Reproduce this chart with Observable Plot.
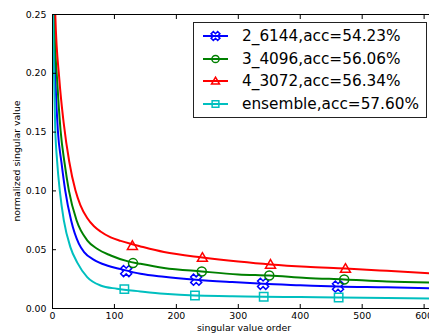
<!DOCTYPE html>
<html><head><meta charset="utf-8">
<script src="https://cdn.jsdelivr.net/npm/d3@7"></script>
<script src="https://cdn.jsdelivr.net/npm/@observablehq/plot@0.6"></script>
<style>
html,body{margin:0;padding:0;background:#fff;}
#wrap{position:relative;width:429px;height:335px;overflow:hidden;font-family:"DejaVu Sans",sans-serif;}
#wrap > svg{max-width:none !important;position:absolute;left:0;top:0;}
#legend{position:absolute;left:193px;top:22px;width:232px;height:94px;border:1px solid #222;background:#fff;box-sizing:content-box;}
.row{position:absolute;left:0;height:20px;}
.row svg{position:absolute;left:8px;top:0;}
.row span{position:absolute;left:48px;top:0;font-size:15.3px;line-height:20px;white-space:nowrap;color:#000;}
.lab{position:absolute;font-size:9.4px;color:#000;white-space:nowrap;}
</style></head>
<body><div id="wrap"></div>
<script>
// ---- data ----
const seriesNames = ["2_6144,acc=54.23%","3_4096,acc=56.06%","4_3072,acc=56.34%","ensemble,acc=57.60%"];
const seriesColors = ["#0000ff","#008000","#ff0000","#00bfbf"];
const xTicks = [0,100,200,300,400,500,600];
const yTicks = [0,0.05,0.10,0.15,0.20,0.25];

const blueOrder = [0,1.5,5,8.6,14.5,20.5,30,42.5,51,67,88,110,142,180,232,290,340,400,461,540,620];
const blueValue = [0.28,0.25,0.19,0.1516,0.124,0.1005,0.075,0.0551,0.048,0.0414,0.0366,0.0335,0.0295,0.027,0.0245,0.0225,0.021,0.0198,0.0187,0.018,0.017];
const greenOrder = [0,2.5,8,13,19.4,26.4,38.8,56,72,94,120.6,142,180,241,300,350,410,471,540,620];
const greenValue = [0.32,0.25,0.19,0.1516,0.124,0.1005,0.075,0.058,0.0508,0.0451,0.0403,0.038,0.0345,0.0315,0.029,0.028,0.026,0.0247,0.023,0.022];
const redOrder = [0,4.5,11,18,27,37,45,56,67,77.5,94,110,126,142,180,242,300,352,410,473,540,620];
const redValue = [0.40,0.25,0.195,0.158,0.125,0.1005,0.088,0.077,0.070,0.0655,0.0605,0.0575,0.055,0.0528,0.048,0.0434,0.040,0.0375,0.0355,0.034,0.032,0.0295];
const cyanOrder = [0,2,4.3,7.5,11.8,18.3,29,40,56,77.5,104,142,180,230,290,341,400,462,540,620];
const cyanValue = [0.29,0.21,0.155,0.125,0.1,0.075,0.052,0.039,0.0267,0.0196,0.0168,0.0145,0.0125,0.011,0.0105,0.010,0.0097,0.0094,0.009,0.0085];

const blueMarkOrder = [119,232,340,461];
const blueMarkValue = [0.0318,0.0245,0.021,0.0187];
const greenMarkOrder = [130,241,350,471];
const greenMarkValue = [0.0386,0.0315,0.028,0.0247];
const redMarkOrder = [129,242,352,473];
const redMarkValue = [0.0535,0.0434,0.0375,0.034];
const cyanMarkOrder = [116,230,341,462];
const cyanMarkValue = [0.0165,0.011,0.010,0.0094];

// ---- symbols ----
function scaleOf(size){ return Math.sqrt(size/Math.PI)/4.5; }
function poly(ctx, pts){ ctx.moveTo(pts[0][0],pts[0][1]); for(let i=1;i<pts.length;i++) ctx.lineTo(pts[i][0],pts[i][1]); ctx.closePath(); }
const symX = {draw(ctx,size){ const s=scaleOf(size), a=2*s, L=5.8*s;
  const p=[[a,L],[a,a],[L,a],[L,-a],[a,-a],[a,-L],[-a,-L],[-a,-a],[-L,-a],[-L,a],[-a,a],[-a,L]].map(([x,y])=>[(x-y)/Math.SQRT2,(x+y)/Math.SQRT2]);
  poly(ctx,p);} };
const symCircle = {draw(ctx,size){ const r=4.5*scaleOf(size); ctx.moveTo(r,0); ctx.arc(0,0,r,0,2*Math.PI);} };
const symTri = {draw(ctx,size){ const s=scaleOf(size); poly(ctx,[[0,-4.8*s],[5*s,3.8*s],[-5*s,3.8*s]]);} };
const symSq = {draw(ctx,size){ const s=scaleOf(size), h=4.2*s; poly(ctx,[[-h,-h],[h,-h],[h,h],[-h,h]]);} };
const symbols = [symX, symCircle, symTri, symSq];

const orders = [blueOrder, greenOrder, redOrder, cyanOrder];
const values = [blueValue, greenValue, redValue, cyanValue];
const mOrders = [blueMarkOrder, greenMarkOrder, redMarkOrder, cyanMarkOrder];
const mValues = [blueMarkValue, greenMarkValue, redMarkValue, cyanMarkValue];

const marks = [];
for (let i=0;i<4;i++){
  const pts = orders[i].map((o,j)=>({x:o,y:values[i][j]}));
  marks.push(Plot.line(pts,{x:"x",y:"y",stroke:seriesColors[i],strokeWidth:2,curve:"monotone-x",clip:true}));
}
for (let i=0;i<4;i++){
  const pts = mOrders[i].map((o,j)=>({x:o,y:mValues[i][j]}));
  marks.push(Plot.dot(pts,{x:"x",y:"y",stroke:seriesColors[i],fill:"none",strokeWidth:1.5,r:4.5,symbol:symbols[i]}));
}
marks.push(Plot.frame({stroke:"#000",strokeWidth:1}));
marks.push(Plot.axisX({anchor:"bottom",ticks:xTicks,tickSize:-4,tickPadding:8,tickFormat:d=>String(d),label:null}));
marks.push(Plot.axisX({anchor:"top",ticks:xTicks,tickSize:-4,tickFormat:()=>"",label:null}));
marks.push(Plot.axisY({anchor:"left",ticks:yTicks,tickSize:-4,tickPadding:10,tickFormat:d3.format(".2f"),label:null}));

const chart = Plot.plot({
  width:440, height:335,
  marginLeft:52, marginTop:14, marginBottom:27, marginRight:4,
  x:{domain:[0,620]}, y:{domain:[0,0.25]},
  style:{fontFamily:"DejaVu Sans",fontSize:"9.4px",color:"#000",background:"#fff",overflow:"visible",maxWidth:"none"},
  marks
});
chart.style.maxWidth = "none";
const wrap = document.getElementById("wrap");
wrap.appendChild(chart);

// axis labels
const xl = document.createElement("div"); xl.className="lab"; xl.textContent="singular value order";
xl.style.left="244px"; xl.style.top="322px"; xl.style.transform="translateX(-50%)"; wrap.appendChild(xl);
const yl = document.createElement("div"); yl.className="lab"; yl.textContent="normalized singular value";
yl.style.left="16px"; yl.style.top="161px"; yl.style.transform="translate(-50%,-50%) rotate(-90deg)"; wrap.appendChild(yl);

// legend
const legend = document.createElement("div"); legend.id="legend"; wrap.appendChild(legend);
const rowY = [13,36,58,81];
for (let i=0;i<4;i++){
  const row = document.createElement("div"); row.className="row"; row.style.top=(rowY[i]-10)+"px";
  const ns="http://www.w3.org/2000/svg";
  const svg = document.createElementNS(ns,"svg"); svg.setAttribute("width","30"); svg.setAttribute("height","20");
  const ln = document.createElementNS(ns,"line"); ln.setAttribute("x1","1"); ln.setAttribute("x2","26"); ln.setAttribute("y1","10"); ln.setAttribute("y2","10");
  ln.setAttribute("stroke",seriesColors[i]); ln.setAttribute("stroke-width","2"); svg.appendChild(ln);
  const p = d3.path(); symbols[i].draw(p, Math.PI*3.6*3.6);
  const pe = document.createElementNS(ns,"path"); pe.setAttribute("d",p.toString()); pe.setAttribute("transform","translate(13.5,10)");
  pe.setAttribute("fill","none"); pe.setAttribute("stroke",seriesColors[i]); pe.setAttribute("stroke-width","1.5"); svg.appendChild(pe);
  row.appendChild(svg);
  const sp = document.createElement("span"); sp.textContent=seriesNames[i]; row.appendChild(sp);
  legend.appendChild(row);
}
</script></body></html>
